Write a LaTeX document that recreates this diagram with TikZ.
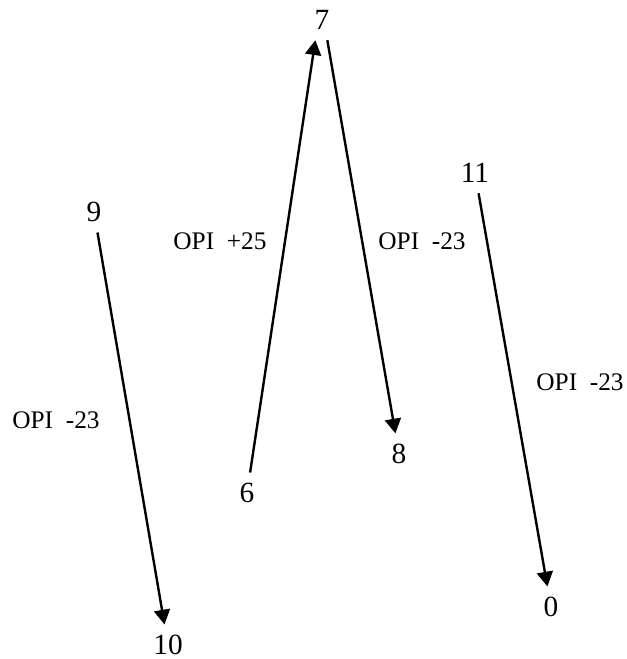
\documentclass[tikz,border=0pt]{standalone}
\usepackage{fontspec}
\setmainfont{Liberation Serif}
\usetikzlibrary{arrows.meta}

\begin{document}
\begin{tikzpicture}[
  x=0.75pt, y=-0.75pt,
  state/.style={inner sep=8pt, outer sep=0pt, font=\fontsize{22}{26}\selectfont},
  opi/.style={inner sep=0pt, font=\fontsize{19}{23}\selectfont},
  trans/.style={-{Triangle[width=12pt,length=11pt]}, line width=1.8pt}
]
  \useasboundingbox (0,0) rectangle (626,659);

  \node[state] (n9)  at (94,212)  {9};
  \node[state] (n10) at (168,645) {10};
  \node[state] (n6)  at (247,493) {6};
  \node[state] (n7)  at (322,20)  {7};
  \node[state] (n8)  at (399,454) {8};
  \node[state] (n11) at (475,173) {11};
  \node[state] (n0)  at (551,607) {0};

  \node[opi] (l910) at (56,420)  {OPI~~-23};
  \node[opi] (l67)  at (220,241) {OPI~~+25};
  \node[opi] (l78)  at (422,241) {OPI~~-23};
  \node[opi] (l110) at (580,382) {OPI~~-23};

  \draw[trans] (n9) -- (n10);
  \draw[trans] (n6) -- ([xshift=-5pt]n7.south);
  \draw[trans] ([xshift=4pt]n7.south) -- (n8);
  \draw[trans] (n11) -- (n0);
\end{tikzpicture}
\end{document}
